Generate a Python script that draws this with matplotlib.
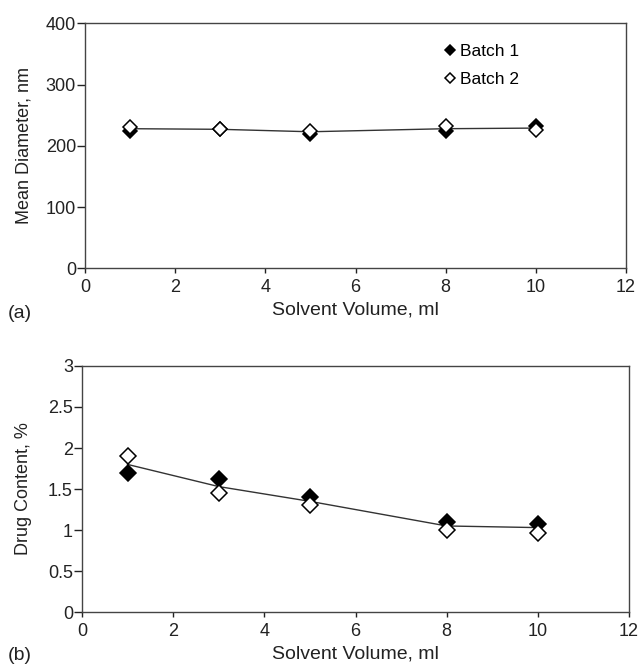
import matplotlib

matplotlib.use("Agg")
import matplotlib.pyplot as plt

plt.rcParams["font.family"] = ["Liberation Sans", "DejaVu Sans"]

volume = [1, 3, 5, 8, 10]

# (a) mean diameter, nm
diam_batch1 = [225, 227, 220, 225, 232]
diam_batch2 = [230, 227, 225, 232, 226]
diam_line = [228, 227, 223, 228, 229]

# (b) drug content, %
drug_batch1 = [1.70, 1.62, 1.40, 1.10, 1.08]
drug_batch2 = [1.90, 1.45, 1.30, 1.00, 0.97]
drug_line = [1.80, 1.53, 1.35, 1.05, 1.03]

fig = plt.figure(figsize=(6.4, 6.69), dpi=100)
ax1 = fig.add_axes([0.133, 0.599, 0.845, 0.366])
ax2 = fig.add_axes([0.128, 0.085, 0.855, 0.368])


def _style(ax, ylab_x):
    for s in ax.spines.values():
        s.set_linewidth(1.0)
        s.set_color("#444444")
    ax.tick_params(axis="y", direction="out", length=5.5, width=1.0, pad=1,
                   labelsize=13, colors="#222222", right=False)
    ax.tick_params(axis="x", direction="out", length=3.5, width=1.0, pad=4,
                   labelsize=13, colors="#222222", top=False)
    ax.set_xlim(0, 12)
    ax.set_xticks(range(0, 13, 2))
    ax.set_xlabel("Solvent Volume, ml", fontsize=14, labelpad=4, color="#222222")
    ax.yaxis.set_label_coords(ylab_x, 0.5)


mk = dict(marker="D", linestyle="none", markeredgewidth=1.1)

ax1.plot(volume, diam_line, color="#333333", lw=1.0, zorder=1)
ax1.plot(volume, diam_batch1, color="black", mfc="black", mec="black",
         markersize=7.5, label="Batch 1", zorder=2, **mk)
ax1.plot(volume, diam_batch2, color="black", mfc="white", mec="black",
         markersize=7.5, label="Batch 2", zorder=3, **mk)
ax1.set_ylim(0, 400)
ax1.set_yticks(range(0, 401, 100))
ax1.set_ylabel("Mean Diameter, nm", fontsize=13, color="#222222")
_style(ax1, -0.098)
ax1.legend(loc="upper left", bbox_to_anchor=(0.645, 0.945), frameon=False,
           fontsize=12.5, handletextpad=0.1, handlelength=1.0, markerscale=0.7,
           labelspacing=0.75, borderaxespad=0)

ax2.plot(volume, drug_line, color="#333333", lw=1.0, zorder=1)
ax2.plot(volume, drug_batch1, color="black", mfc="black", mec="black",
         markersize=8.5, zorder=2, **mk)
ax2.plot(volume, drug_batch2, color="black", mfc="white", mec="black",
         markersize=8, zorder=3, **mk)
ax2.set_ylim(0, 3)
ax2.set_yticks([0, 0.5, 1, 1.5, 2, 2.5, 3])
ax2.set_yticklabels(["0", "0.5", "1", "1.5", "2", "2.5", "3"])
ax2.set_ylabel("Drug Content, %", fontsize=13, color="#222222")
_style(ax2, -0.091)

fig.text(0.012, 1 - 313 / 669, "(a)", fontsize=14, va="center", ha="left",
         color="#222222")
fig.text(0.012, 1 - 656 / 669, "(b)", fontsize=14, va="center", ha="left",
         color="#222222")

fig.savefig("out.png", dpi=100)
